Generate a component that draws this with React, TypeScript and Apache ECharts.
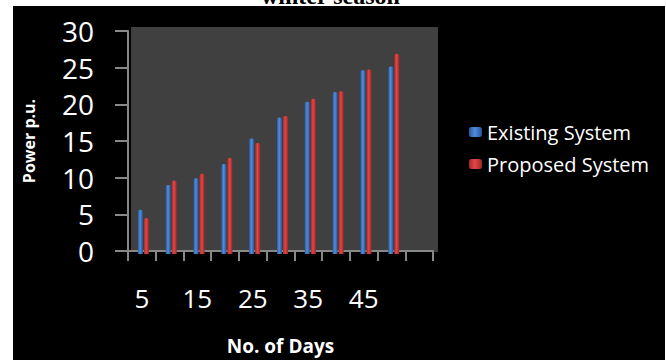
import React, { useEffect, useRef } from "react";
import * as echarts from "echarts";

const categories = ["5", "10", "15", "20", "25", "30", "35", "40", "45", "50", ""];
const existingSystem = [5.9, 9.2, 10.1, 12.0, 15.4, 18.2, 20.3, 21.6, 24.5, 25.0, null];
const proposedSystem = [4.8, 9.8, 10.7, 12.8, 14.8, 18.4, 20.7, 21.7, 24.6, 26.7, null];
const yMin = 0;
const yMax = 30;
const yInterval = 5;
const titleText = "winter season";
const xName = "No. of Days";
const yName = "Power p.u.";
const seriesNames = ["Existing System", "Proposed System"];

const FONT = "'Open Sans', sans-serif";

export default function App() {
  const ref = useRef<HTMLDivElement>(null);
  useEffect(() => {
    if (!ref.current) return;
    const chart = echarts.init(ref.current, null, { renderer: "svg" });
    const blue = new echarts.graphic.LinearGradient(0, 0, 1, 0, [
      { offset: 0, color: "#2c5a98" },
      { offset: 0.45, color: "#4e8ee0" },
      { offset: 1, color: "#2a5290" },
    ]);
    const red = new echarts.graphic.LinearGradient(0, 0, 1, 0, [
      { offset: 0, color: "#a42a2a" },
      { offset: 0.45, color: "#e24646" },
      { offset: 1, color: "#9e2626" },
    ]);
    const hiddenCat = {
      type: "category",
      data: categories,
      show: false,
    };
    chart.setOption({
      animation: false,
      backgroundColor: "#ffffff",
      textStyle: { fontFamily: FONT },
      graphic: [
        {
          type: "text",
          left: 341 - 80,
          top: -16,
          style: {
            text: titleText,
            font: "bold 24px 'Liberation Serif', serif",
            fill: "#000",
          },
          z: 0,
        },
        {
          type: "rect",
          shape: { x: 13, y: 6, width: 652, height: 360 },
          style: { fill: "#000" },
          z: 1,
          silent: true,
        },
      ],
      grid: [
        {
          left: 131,
          top: 27,
          width: 307,
          height: 225,
          show: true,
          backgroundColor: "#404040",
          borderWidth: 0,
          z: 2,
        },
        { left: 128, top: 31, width: 305, height: 225, z: 3 },
        { left: 129.5, top: 29, width: 306, height: 225, z: 4 },
      ],
      xAxis: [
        { ...hiddenCat, gridIndex: 0 },
        {
          type: "category",
          gridIndex: 1,
          data: categories,
          boundaryGap: true,
          axisLine: { show: true, lineStyle: { color: "#888888", width: 2 } },
          axisTick: { show: true, interval: 0, length: 10, lineStyle: { color: "#888888", width: 2 } },
          axisLabel: {
            interval: 1,
            color: "#ffffff",
            fontSize: 26,
            fontFamily: FONT,
            margin: 34,
          },
          name: xName,
          nameLocation: "middle",
          nameGap: 85,
          nameTextStyle: { color: "#ffffff", fontSize: 19, fontWeight: "bold", fontFamily: FONT },
          z: 5,
        },
        { ...hiddenCat, gridIndex: 2 },
      ],
      yAxis: [
        {
          type: "value",
          gridIndex: 0,
          min: yMin,
          max: yMax,
          interval: yInterval,
          axisLine: { show: false },
          axisTick: { show: false },
          axisLabel: { show: false },
          splitLine: { show: true, lineStyle: { color: "#8c8c8c", width: 2 } },
        },
        {
          type: "value",
          gridIndex: 1,
          min: yMin,
          max: yMax,
          interval: yInterval,
          axisLine: { show: true, lineStyle: { color: "#888888", width: 2 } },
          axisTick: { show: true, length: 13, lineStyle: { color: "#888888", width: 2 } },
          axisLabel: { color: "#ffffff", fontSize: 28, fontFamily: FONT, margin: 34 },
          splitLine: { show: false },
          name: yName,
          nameLocation: "middle",
          nameGap: 91,
          nameTextStyle: { color: "#ffffff", fontSize: 16, fontWeight: "bold", fontFamily: FONT },
          z: 5,
        },
        {
          type: "value",
          gridIndex: 2,
          min: yMin,
          max: yMax,
          interval: yInterval,
          show: false,
          splitLine: { show: false },
        },
      ],
      legend: {
        orient: "vertical",
        left: 464,
        top: 117,
        itemWidth: 13,
        itemHeight: 10,
        itemGap: 12,
        textStyle: { color: "#ffffff", fontSize: 20, fontFamily: FONT },
        data: seriesNames,
      },
      series: [
        {
          name: seriesNames[0],
          type: "bar",
          xAxisIndex: 2,
          yAxisIndex: 2,
          data: existingSystem,
          barWidth: 5,
          barGap: "20%",
          itemStyle: { color: blue, borderRadius: [2, 2, 0, 0] },
          z: 6,
        },
        {
          name: seriesNames[1],
          type: "bar",
          xAxisIndex: 2,
          yAxisIndex: 2,
          data: proposedSystem,
          barWidth: 5,
          barGap: "20%",
          itemStyle: { color: red, borderRadius: [2, 2, 0, 0] },
          z: 6,
        },
      ],
    });
    return () => chart.dispose();
  }, []);
  return (
    <div
      ref={ref}
      style={{ position: "fixed", left: 0, top: 0, width: 666, height: 360 }}
    />
  );
}
